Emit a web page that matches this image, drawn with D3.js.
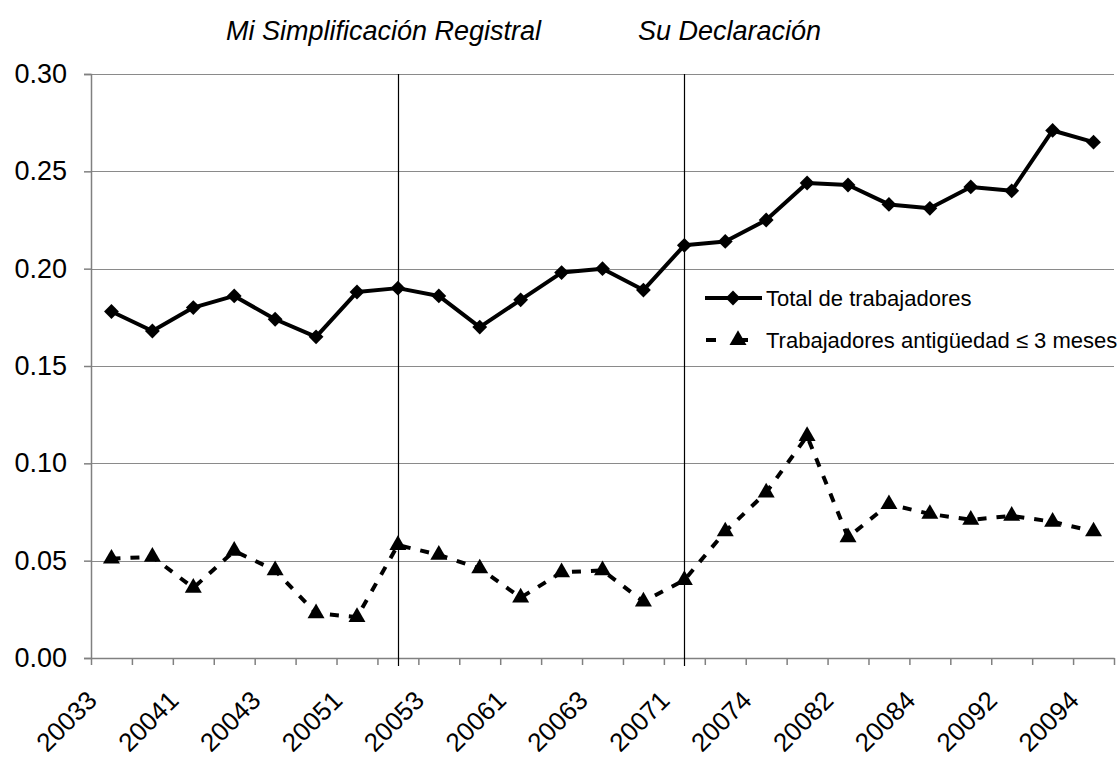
<!DOCTYPE html>
<html>
<head>
<meta charset="utf-8">
<script src="https://cdn.jsdelivr.net/npm/d3@7"></script>
<style>
  html, body { margin: 0; padding: 0; background: #fff; }
  svg { display: block; font-family: "Liberation Sans", Arial, sans-serif; }
</style>
</head>
<body>
<svg id="chart" width="1119" height="759"></svg>
<script>
const categories = ["20033","20034","20041","20042","20043","20044","20051","20052","20053","20054",
  "20061","20062","20063","20064","20071","20072","20074","20081","20082","20083","20084",
  "20091","20092","20093","20094"];
const totalValues = [0.178,0.168,0.180,0.186,0.174,0.165,0.188,0.190,0.186,0.170,0.184,0.198,0.200,
  0.189,0.212,0.214,0.225,0.244,0.243,0.233,0.231,0.242,0.240,0.271,0.265];
const shortValues = [0.051,0.052,0.036,0.055,0.045,0.023,0.021,0.058,0.053,0.046,0.031,0.044,0.045,
  0.029,0.040,0.065,0.085,0.114,0.062,0.079,0.074,0.071,0.073,0.070,0.065];
const yTicks = [0, 0.05, 0.10, 0.15, 0.20, 0.25, 0.30];
const shownLabels = ["20033","20041","20043","20051","20053","20061","20063","20071","20074","20082","20084","20092","20094"];
const seriesNames = ["Total de trabajadores", "Trabajadores antigüedad ≤ 3 meses"];
const markerCategories = ["20052", "20071"];
const annotations = ["Mi Simplificación Registral", "Su Declaración"];

(function () {
const svg = d3.select("#chart");
const pLeft = 91, pRight = 1114, pTop = 74, pBottom = 658;

const x = d3.scaleBand().domain(categories).range([pLeft, pRight]).paddingInner(0).paddingOuter(0);
const cx = c => x(c) + x.bandwidth() / 2;
const xb = d3.scaleLinear().domain([0, categories.length]).range([pLeft, pRight]);
const y = d3.scaleLinear().domain([0, 0.30]).range([pBottom, pTop]);

// gridlines
svg.append("g").selectAll("line").data(yTicks.filter(d => d > 0)).join("line")
  .attr("x1", pLeft).attr("x2", pRight)
  .attr("y1", d => Math.round(y(d)) + 0.5).attr("y2", d => Math.round(y(d)) + 0.5)
  .attr("stroke", "#8a8a8a").attr("stroke-width", 1);

// y axis
const yAxis = svg.append("g").attr("transform", `translate(${pLeft},0)`)
  .call(d3.axisLeft(y).tickValues(yTicks).tickFormat(d3.format(".2f")).tickSize(7).tickPadding(17));
yAxis.select(".domain").attr("stroke", "#808080").attr("stroke-width", 1.5);
yAxis.selectAll(".tick line").attr("stroke", "#808080").attr("stroke-width", 1.5);
yAxis.selectAll(".tick text").attr("font-size", 27).attr("fill", "#000")
  .attr("font-family", "'Liberation Sans', Arial, sans-serif");

// x axis (ticks at category boundaries)
const xAxis = svg.append("g").attr("transform", `translate(0,${pBottom})`)
  .call(d3.axisBottom(xb).tickValues(d3.range(categories.length + 1)).tickFormat("").tickSize(7).tickSizeOuter(0));
xAxis.select(".domain").attr("stroke", "#808080").attr("stroke-width", 1.5);
xAxis.selectAll(".tick line").attr("stroke", "#808080").attr("stroke-width", 1.5);

// x labels
svg.append("g").selectAll("text").data(shownLabels).join("text")
  .attr("transform", d => `translate(${cx(d) - 13},702) rotate(-45)`)
  .attr("text-anchor", "end")
  .attr("font-size", 26)
  .attr("fill", "#000")
  .text(d => d);

// vertical marker lines
svg.append("g").selectAll("line").data(markerCategories).join("line")
  .attr("x1", d => Math.round(cx(d)) + 0.5).attr("x2", d => Math.round(cx(d)) + 0.5)
  .attr("y1", pTop).attr("y2", pBottom + 8)
  .attr("stroke", "#000").attr("stroke-width", 1.2);

// annotations
svg.append("text").attr("x", 226).attr("y", 40).attr("font-size", 27).attr("font-style", "italic")
  .text(annotations[0]);
svg.append("text").attr("x", 638).attr("y", 40).attr("font-size", 27).attr("font-style", "italic")
  .text(annotations[1]);

const line = d3.line().x(d => cx(d.c)).y(d => y(d.v));
const totalData = categories.map((c, i) => ({c, v: totalValues[i]}));
const shortData = categories.map((c, i) => ({c, v: shortValues[i]}));

const diamond = d3.symbol().type(d3.symbolSquare).size(110);
const triangle = d3.symbol().type(d3.symbolTriangle).size(125);

// short series
svg.append("path").datum(shortData).attr("d", line)
  .attr("fill", "none").attr("stroke", "#000").attr("stroke-width", 4).attr("stroke-dasharray", "9,10");
svg.append("g").selectAll("path").data(shortData).join("path")
  .attr("d", triangle)
  .attr("transform", d => `translate(${cx(d.c)},${y(d.v)})`)
  .attr("fill", "#000");

// total series
svg.append("path").datum(totalData).attr("d", line)
  .attr("fill", "none").attr("stroke", "#000").attr("stroke-width", 4).attr("stroke-linejoin", "round");
svg.append("g").selectAll("path").data(totalData).join("path")
  .attr("d", diamond)
  .attr("transform", d => `translate(${cx(d.c)},${y(d.v)}) rotate(45)`)
  .attr("fill", "#000");

// legend
const lg = svg.append("g");
lg.append("line").attr("x1", 705).attr("x2", 762).attr("y1", 298).attr("y2", 298)
  .attr("stroke", "#000").attr("stroke-width", 4);
lg.append("path").attr("d", diamond).attr("transform", "translate(733,298) rotate(45)").attr("fill", "#000");
lg.append("text").attr("x", 766).attr("y", 298).attr("dy", "0.35em").attr("font-size", 22).text(seriesNames[0]);

lg.append("line").attr("x1", 706).attr("x2", 716).attr("y1", 340).attr("y2", 340)
  .attr("stroke", "#000").attr("stroke-width", 4);
lg.append("line").attr("x1", 738).attr("x2", 748).attr("y1", 340).attr("y2", 340)
  .attr("stroke", "#000").attr("stroke-width", 4);
lg.append("path").attr("d", triangle).attr("transform", "translate(738,340)").attr("fill", "#000");
lg.append("text").attr("x", 766).attr("y", 340).attr("dy", "0.35em").attr("font-size", 22).text(seriesNames[1]);
})();
</script>
</body>
</html>
